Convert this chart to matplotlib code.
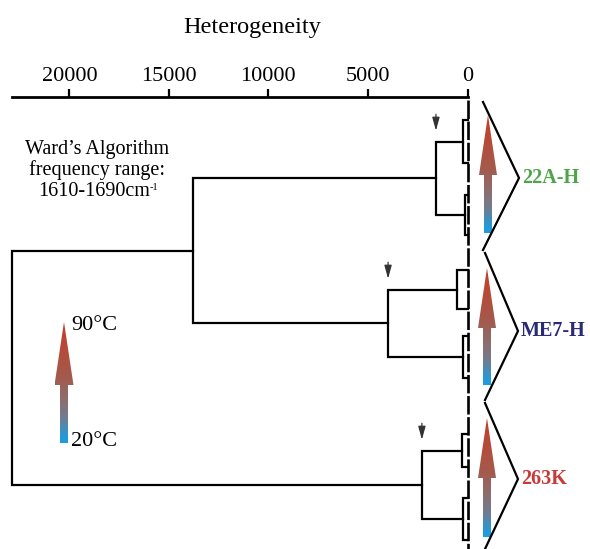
import numpy as np
import matplotlib
matplotlib.use("Agg")
import matplotlib.pyplot as plt
from matplotlib.patches import Polygon
from matplotlib.colors import LinearSegmentedColormap

plt.rcParams['font.family'] = ['Liberation Serif', 'DejaVu Serif']

# ---------------- data ----------------
# leaf positions (rows, top to bottom)
leaf_pos = [120, 163, 195, 235, 270, 309, 336, 378, 434, 467, 498, 540]
# merges: (child_a, child_b, heterogeneity); node ids continue after the leaves
merges = [
    (0, 1, 240),
    (2, 3, 125),
    (4, 5, 530),
    (6, 7, 225),
    (8, 9, 275),
    (10, 11, 225),
    (12, 13, 1585),
    (14, 15, 3990),
    (16, 17, 2290),
    (18, 19, 13810),
    (21, 20, 22880),
]
tick_values = [20000, 15000, 10000, 5000, 0]
tick_labels = ["20000", "15000", "10000", "5000", "0"]
group_labels = ["22A-H", "ME7-H", "263K"]
group_colors = ["#4fa64a", "#2b2a78", "#c83a3a"]
group_nodes = [18, 19, 20]   # nodes marked by the small arrows

W, H = 590, 549
fig = plt.figure(figsize=(W / 100, H / 100), dpi=100)

# main axes: from pixel x=12 to 467.5, top spine at y=97
x0, x1, ytop = 12, 467.5, 97
ax = fig.add_axes([x0 / W, 0, (x1 - x0) / W, (H - ytop) / H])
ax.set_xlim(22880, 0)
ax.set_ylim(H, ytop)

n = len(leaf_pos)
pos = {i: leaf_pos[i] for i in range(n)}
hgt = {i: 0.0 for i in range(n)}
for k, (a, b, h) in enumerate(merges):
    node = n + k
    ax.plot([hgt[a], h, h, hgt[b]], [pos[a], pos[a], pos[b], pos[b]],
            color='black', lw=1.6, solid_joinstyle='miter', clip_on=False)
    pos[node] = (pos[a] + pos[b]) / 2
    hgt[node] = h

# dashed baseline of collapsed leaves
ax.plot([-40, -40], [100, H], color='black', lw=1.9, ls=(0, (7, 1.0)), clip_on=False)

# small downward arrows above the group merges
for node in group_nodes:
    a, b, h = merges[node - n]
    ya = pos[a]
    ax.annotate('', xy=(h, ya - 8), xytext=(h, ya - 30),
                arrowprops=dict(arrowstyle='-|>,head_length=0.8,head_width=0.22',
                                color='#333333', lw=0.9),
                annotation_clip=False)

for s in ['left', 'right', 'bottom']:
    ax.spines[s].set_visible(False)
ax.spines['top'].set_linewidth(2.0)
ax.xaxis.tick_top()
ax.set_xticks(tick_values)
ax.set_xticklabels(tick_labels, fontsize=16)
ax.tick_params(axis='x', direction='out', length=6, width=1.6, pad=2)
ax.set_yticks([])
ax.patch.set_visible(False)
ax.set_xlabel("Heterogeneity", fontsize=17.5)
ax.xaxis.set_label_position('top')
ax.xaxis.set_label_coords((252 - x0) / (x1 - x0), (H - 28) / (H - ytop))
ax.xaxis.label.set_verticalalignment('center')

# overlay axes in pixel units for annotations
ov = fig.add_axes([0, 0, 1, 1])
ov.set_xlim(0, W)
ov.set_ylim(H, 0)
ov.axis('off')

cmap = LinearSegmentedColormap.from_list(
    'temp', [(0.0, '#c63c28'), (0.45, '#a45a4c'), (0.65, '#8c6e70'),
             (0.8, '#6f7d92'), (0.92, '#2f95cf'), (1.0, '#19a0e2')])
grad = np.linspace(0, 1, 256).reshape(-1, 1)

def grad_arrow(cx, top, head_base, bottom, hw, sw):
    pts = [(cx, top), (cx + hw, head_base), (cx + sw, head_base), (cx + sw, bottom),
           (cx - sw, bottom), (cx - sw, head_base), (cx - hw, head_base)]
    poly = Polygon(pts, closed=True, fc='none', ec='none')
    ov.add_patch(poly)
    im = ov.imshow(grad, cmap=cmap, aspect='auto', origin='upper',
                   extent=(cx - hw, cx + hw, bottom, top), interpolation='bilinear')
    im.set_clip_path(poly)

# group arrows, brackets, labels
arrows = [(488, 115, 175, 233), (487, 268, 328, 385), (487, 418, 478, 537)]
brackets = [((483, 102), (519, 178), (483, 250)),
            ((485, 253), (518, 331), (485, 400)),
            ((485, 403), (518, 479), (485, 549))]
for (cx, t, hb, b), br, lab, col in zip(arrows, brackets, group_labels, group_colors):
    grad_arrow(cx, t, hb, b, 9, 4)
    xs = [p[0] for p in br]
    ys = [p[1] for p in br]
    ov.plot(xs, ys, color='black', lw=1.6, solid_joinstyle='miter')
    ov.text(br[1][0] + 3, br[1][1], lab, color=col, fontsize=14.5,
            fontweight='bold', va='center', ha='left')

# legend arrow
grad_arrow(64, 322, 385, 443, 9.5, 4)
ov.text(71, 325, "90°C", fontsize=16, va='center', ha='left')
ov.text(71, 441, "20°C", fontsize=16, va='center', ha='left')

ov.text(97, 160, "Ward’s Algorithm\nfrequency range:", fontsize=14.5,
        ha='center', va='center', linespacing=1.1)
t3 = ov.text(94, 191, "1610-1690cm", fontsize=14.5, ha='center', va='center')
ov.annotate("-1", xy=(1.0, 0.92), xycoords=t3, fontsize=7.5,
            ha='left', va='top')

fig.savefig("out.png", dpi=100)
